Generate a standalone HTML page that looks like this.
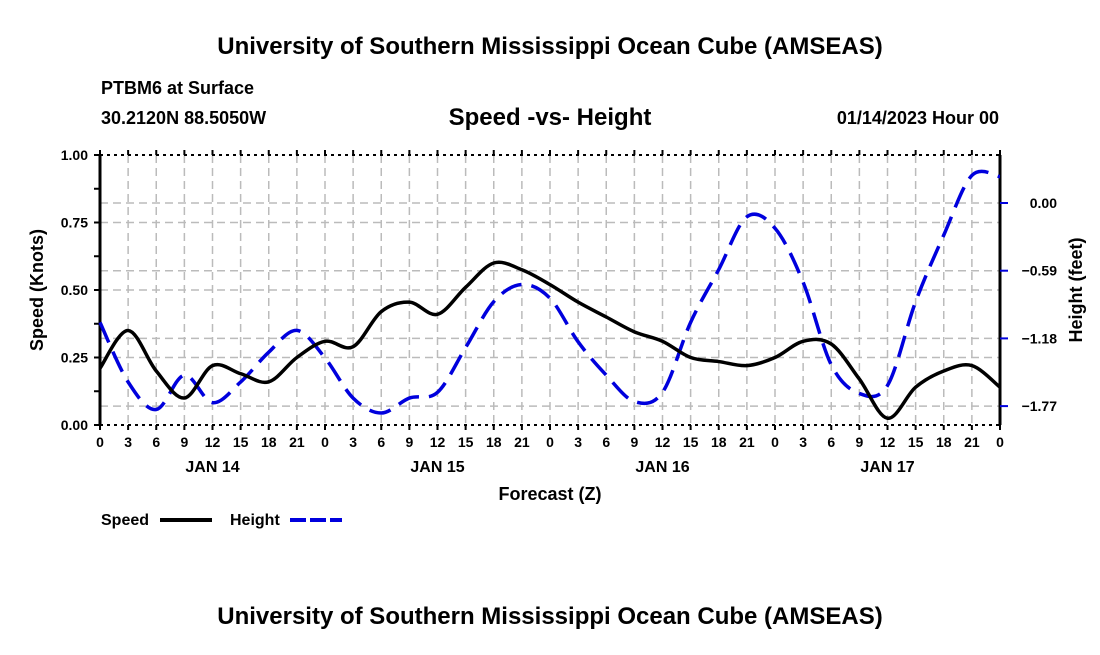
<!DOCTYPE html>
<html><head><meta charset="utf-8"><style>
body{margin:0;background:#fff;}
svg text{font-family:"Liberation Sans",Arial,sans-serif;font-weight:bold;fill:#000;}
</style></head><body>
<svg width="1100" height="650" xmlns="http://www.w3.org/2000/svg">
<text x="550" y="54" font-size="24" text-anchor="middle">University of Southern Mississippi Ocean Cube (AMSEAS)</text>
<text x="101" y="94" font-size="18">PTBM6 at Surface</text>
<text x="101" y="124" font-size="18">30.2120N  88.5050W</text>
<text x="550" y="125" font-size="24" text-anchor="middle">Speed -vs- Height</text>
<text x="999" y="124" font-size="18" text-anchor="end">01/14/2023 Hour 00</text>
<g id="grid"></g>
<g id="axes"></g>
<g id="series"></g>
<text transform="translate(43,290) rotate(-90)" font-size="18" text-anchor="middle">Speed (Knots)</text>
<text transform="translate(1082,290) rotate(-90)" font-size="18" text-anchor="middle">Height (feet)</text>
<text x="550" y="500" font-size="18" text-anchor="middle">Forecast (Z)</text>
<g>
<text x="101" y="525" font-size="16">Speed</text>
<line x1="160" y1="520" x2="212" y2="520" stroke="#000" stroke-width="4"/>
<text x="230" y="525" font-size="16">Height</text>
<line x1="290" y1="520" x2="342" y2="520" stroke="#0000dd" stroke-width="4" stroke-dasharray="16,4"/>
</g>
<text x="550" y="624" font-size="24" text-anchor="middle">University of Southern Mississippi Ocean Cube (AMSEAS)</text>
</svg>
<script>
const hours=[0,3,6,9,12,15,18,21,24,27,30,33,36,39,42,45,48,51,54,57,60,63,66,69,72,75,78,81,84,87,90,93,96];
const speed=[0.21,0.35,0.20,0.10,0.22,0.19,0.16,0.25,0.31,0.29,0.42,0.455,0.41,0.51,0.60,0.575,0.52,0.455,0.40,0.345,0.31,0.25,0.235,0.22,0.25,0.31,0.30,0.17,0.025,0.14,0.20,0.22,0.14];
const height=[-1.04,-1.56,-1.80,-1.50,-1.74,-1.56,-1.30,-1.11,-1.35,-1.70,-1.83,-1.70,-1.65,-1.26,-0.86,-0.71,-0.83,-1.21,-1.50,-1.73,-1.65,-1.04,-0.58,-0.12,-0.22,-0.69,-1.41,-1.66,-1.59,-0.86,-0.28,0.24,0.23];
const leftTicks=[0,0.25,0.5,0.75,1.0];
const rightTicks=[0.00,-0.59,-1.18,-1.77];
const dayLabels=[["JAN 14",12],["JAN 15",36],["JAN 16",60],["JAN 17",84]];
const X0=100,X1=1000,Y0=425,Y1=155;
const xs=h=>X0+(h/96)*(X1-X0);
const yL=v=>Y0-v*(Y0-Y1);
const yR=f=>203-f*(67.7/0.59);
const NS="http://www.w3.org/2000/svg";
function mk(p,t,a){const e=document.createElementNS(NS,t);for(const k in a)e.setAttribute(k,a[k]);p.appendChild(e);return e;}
const grid=document.getElementById('grid'),axes=document.getElementById('axes'),ser=document.getElementById('series');
for(let h=3;h<96;h+=3){const l=mk(grid,'line',{x1:xs(h),x2:xs(h),y1:Y1,y2:Y0,stroke:'#bbb','stroke-width':1.5,'stroke-dasharray':'8,5'});

}
leftTicks.slice(1,4).forEach(v=>{const l=mk(grid,'line',{x1:X0,x2:X1,y1:yL(v),y2:yL(v),stroke:'#bbb','stroke-width':1.5,'stroke-dasharray':'8,5'});

});
rightTicks.forEach(v=>{const l=mk(grid,'line',{x1:X0,x2:X1,y1:yR(v),y2:yR(v),stroke:'#bbb','stroke-width':1.5,'stroke-dasharray':'8,5'});

});
// frame
mk(axes,'line',{x1:X0,x2:X1,y1:Y1,y2:Y1,stroke:'#000','stroke-width':2,'stroke-dasharray':'3,4'});
mk(axes,'line',{x1:X0,x2:X1,y1:Y0,y2:Y0,stroke:'#000','stroke-width':2,'stroke-dasharray':'3,4'});
mk(axes,'line',{x1:X0,x2:X0,y1:Y1,y2:Y0,stroke:'#000','stroke-width':3});
mk(axes,'line',{x1:X1,x2:X1,y1:Y1,y2:Y0,stroke:'#000','stroke-width':3});
for(let h=0;h<=96;h+=3){
mk(axes,'line',{x1:xs(h),x2:xs(h),y1:Y0,y2:Y0+5,stroke:'#000','stroke-width':2});
mk(axes,'line',{x1:xs(h),x2:xs(h),y1:Y1,y2:Y1-5,stroke:'#000','stroke-width':2});
const t=mk(axes,'text',{x:xs(h),y:Y0+22,'font-size':14,'text-anchor':'middle'});t.textContent=String(h%24);

}
dayLabels.forEach(([s,h])=>{const t=mk(axes,'text',{x:xs(h),y:Y0+47,'font-size':16,'text-anchor':'middle'});t.textContent=s;

});
for(let v=0;v<=1.0001;v+=0.125){mk(axes,'line',{x1:X0-6,x2:X0,y1:yL(v),y2:yL(v),stroke:'#000','stroke-width':2});}
leftTicks.forEach(v=>{const t=mk(axes,'text',{x:X0-12,y:yL(v)+5,'font-size':14,'text-anchor':'end'});t.textContent=v.toFixed(2);

});
rightTicks.forEach(v=>{mk(axes,'line',{x1:X1,x2:X1+8,y1:yR(v),y2:yR(v),stroke:'#0000dd','stroke-width':2});
const t=mk(axes,'text',{x:X1+57,y:yR(v)+5,'font-size':14,'text-anchor':'end'});t.textContent=v.toFixed(2).replace('-','\u2212');

});
function smooth(pts){let d=`M${pts[0][0]},${pts[0][1]}`;for(let i=0;i<pts.length-1;i++){const p0=pts[Math.max(0,i-1)],p1=pts[i],p2=pts[i+1],p3=pts[Math.min(pts.length-1,i+2)];
d+=` C${p1[0]+(p2[0]-p0[0])/6},${p1[1]+(p2[1]-p0[1])/6} ${p2[0]-(p3[0]-p1[0])/6},${p2[1]-(p3[1]-p1[1])/6} ${p2[0]},${p2[1]}`;}return d;}
const hp=mk(ser,'path',{d:smooth(hours.map((h,i)=>[xs(h),yR(height[i])])),fill:'none',stroke:'#0000dd','stroke-width':3.5,'stroke-dasharray':'22,10'});


const sp=mk(ser,'path',{d:smooth(hours.map((h,i)=>[xs(h),yL(speed[i])])),fill:'none',stroke:'#000','stroke-width':3.5});


</script>
</body></html>
